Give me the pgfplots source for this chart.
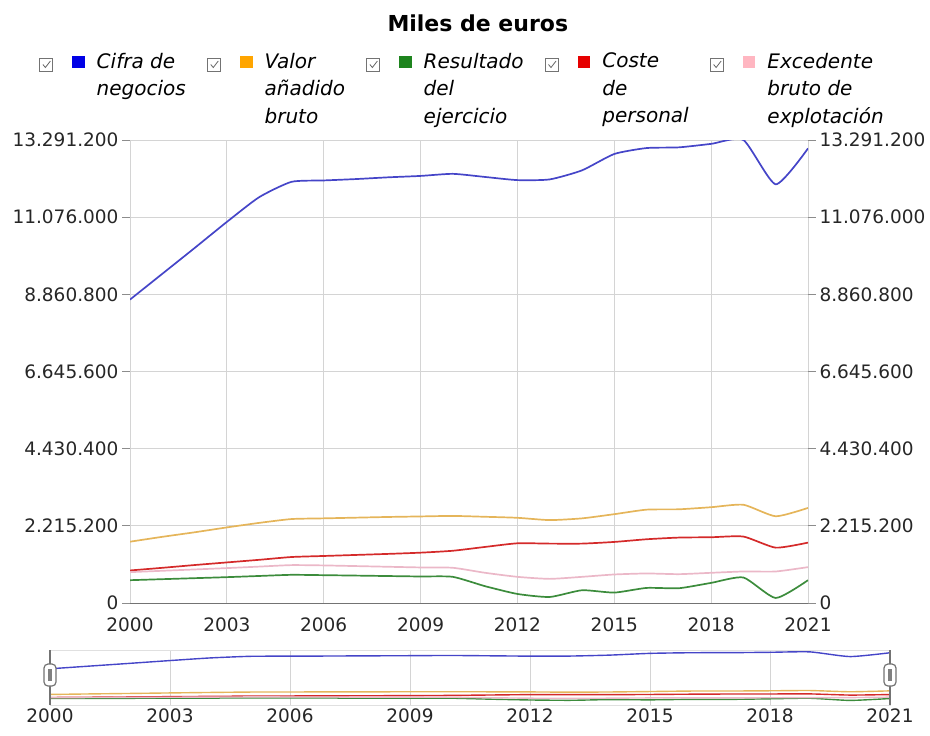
\documentclass[border=0pt]{standalone}
\usepackage{fontspec}
\setmainfont{DejaVu Sans}
\usepackage{pgfplots}
\usepackage{pgfplotstable}
\pgfplotsset{compat=1.18}

\definecolor{cblue}{HTML}{4545C8}
\definecolor{corange}{HTML}{E5B55A}
\definecolor{cgreen}{HTML}{3C8C3C}
\definecolor{cred}{HTML}{D42A2A}
\definecolor{cpink}{HTML}{EBB8C8}
\definecolor{lblue}{HTML}{0000E6}
\definecolor{lorange}{HTML}{FFA500}
\definecolor{lgreen}{HTML}{1E841E}
\definecolor{lred}{HTML}{E60000}
\definecolor{lpink}{HTML}{FFB6C1}
\definecolor{gridc}{HTML}{D4D4D4}

\newcommand{\tickfont}{\fontsize{18.5}{22}\selectfont}
\newcommand{\legfont}{\fontsize{20}{27.5}\selectfont}
\newcommand{\titlefont}{\fontsize{22}{26}\selectfont}

\newcommand{\legimg}[1]{%
  \draw[black!55, line width=0.8pt, fill=white] (-0.5pt,-18.5pt) rectangle (13pt,-5pt);
  \draw[black!60, line width=0.8pt] (3pt,-11.5pt) -- (5.5pt,-14.5pt) -- (10.5pt,-8pt);
  \fill[#1] (33pt,-14.5pt) rectangle (44pt,-3.5pt);
}

% year, value (euros x 1000)
\pgfplotstableread{
year cifra valor resultado coste excedente
2000 8710000 1760000 655000 934000 886000
2001 9450000 1900000 684000 1010000 925000
2002 10190000 2030000 713000 1090000 963000
2003 10940000 2170000 742000 1165000 1002000
2004 11650000 2300000 776000 1240000 1045000
2005 12090000 2410000 809000 1320000 1088000
2006 12130000 2430000 799000 1350000 1079000
2007 12170000 2450000 787000 1380000 1060000
2008 12220000 2470000 774000 1410000 1040000
2009 12260000 2485000 761000 1445000 1021000
2010 12320000 2500000 751000 1500000 1011000
2011 12230000 2475000 482000 1610000 867000
2012 12140000 2446000 260000 1714000 751000
2013 12160000 2380000 173000 1705000 693000
2014 12420000 2430000 366000 1705000 751000
2015 12890000 2550000 299000 1753000 819000
2016 13060000 2680000 433000 1830000 848000
2017 13080000 2690000 424000 1878000 828000
2018 13180000 2750000 578000 1888000 867000
2019 13291200 2820000 732000 1907000 905000
2020 12020000 2490000 144000 1589000 905000
2021 13050000 2730000 655000 1734000 1030000
}\datatable

\begin{document}
\begin{tikzpicture}
\useasboundingbox (0pt,0pt) rectangle (930pt,-736pt);

% ---------- main chart ----------
\begin{axis}[
  at={(130pt,-603pt)}, anchor=south west,
  width=678pt, height=463pt, scale only axis,
  xmin=2000, xmax=2021, ymin=0, ymax=13291200,
  scaled y ticks=false,
  axis x line*=bottom, axis y line*=left,
  x axis line style={draw=black!55, line width=1pt, -},
  y axis line style={draw=none},
  xtick={2000,2003,...,2021},
  ytick={0,2215200,4430400,6645600,8860800,11076000,13291200},
  yticklabels={0,2.215.200,4.430.400,6.645.600,8.860.800,11.076.000,13.291.200},
  xticklabel style={font=\tickfont, /pgf/number format/1000 sep={}, /pgf/number format/assume math mode=true, text=black!85, yshift=-3pt},
  yticklabel style={font=\tickfont, text=black!85},
  grid=major, grid style={gridc, line width=0.8pt},
  tick align=outside, major tick length=8pt,
  xtick style={draw=none},
  ytick style={draw=black!45, line width=0.8pt},
  title={Miles de euros},
  title style={font=\titlefont\bfseries, at={(axis description cs:0.513,1.222)}, anchor=base},
  legend columns=5,
  legend cell align=left,
  legend style={at={(axis description cs:-0.13422,1.1879)}, anchor=north west,
    draw=none, fill=none, inner sep=0pt, outer sep=0pt,
    font=\legfont\itshape,
    nodes={inner sep=0pt, align=left, anchor=north west},
    /tikz/every odd column/.append style={column sep=12pt},
    /tikz/every even column/.append style={column sep=21pt}},
  every axis plot/.append style={line width=1.7pt, smooth, tension=0.35},
]
\addplot[cblue, legend image code/.code={\legimg{lblue}}] table[x=year,y=cifra] {\datatable};
\addlegendentry{Cifra de\\negocios}
\addplot[corange, legend image code/.code={\legimg{lorange}}] table[x=year,y=valor] {\datatable};
\addlegendentry{Valor\\añadido\\bruto}
\addplot[cgreen, legend image code/.code={\legimg{lgreen}}] table[x=year,y=resultado] {\datatable};
\addlegendentry{Resultado\\del\\ejercicio}
\addplot[cred, legend image code/.code={\legimg{lred}}] table[x=year,y=coste] {\datatable};
\addlegendentry{Coste\\de\\personal}
\addplot[cpink, legend image code/.code={\legimg{lpink}}] table[x=year,y=excedente] {\datatable};
\addlegendentry{Excedente\\bruto de\\explotación}
\end{axis}

% ---------- right-hand labels ----------
\begin{axis}[
  at={(130pt,-603pt)}, anchor=south west,
  width=678pt, height=463pt, scale only axis,
  xmin=2000, xmax=2021, ymin=0, ymax=13291200,
  scaled y ticks=false,
  hide x axis, axis y line*=right,
  y axis line style={draw=none},
  ytick={0,2215200,4430400,6645600,8860800,11076000,13291200},
  yticklabels={0,2.215.200,4.430.400,6.645.600,8.860.800,11.076.000,13.291.200},
  yticklabel style={font=\tickfont, text=black!85},
  tick align=outside, major tick length=8pt,
  ytick style={draw=black!45, line width=0.8pt},
]
\addplot[draw=none] coordinates {(2000,0)};
\end{axis}

% ---------- navigator ----------
\begin{axis}[
  at={(50pt,-705pt)}, anchor=south west,
  width=840pt, height=55pt, scale only axis,
  xmin=2000, xmax=2021, ymin=-1100000, ymax=13800000,
  scaled y ticks=false,
  axis line style={draw=black!12},
  ytick=\empty,
  xtick={2000,2003,...,2021},
  xticklabel style={font=\tickfont, /pgf/number format/1000 sep={}, /pgf/number format/assume math mode=true, text=black!85},
  xmajorgrids, grid style={gridc, line width=0.8pt},
  xtick style={draw=none},
  every axis plot/.append style={line width=1.4pt, smooth, tension=0.35},
  clip=false,
]
\addplot[cblue] table[x=year,y=cifra] {\datatable};
\addplot[corange] table[x=year,y=valor] {\datatable};
\addplot[cgreen] table[x=year,y=resultado] {\datatable};
\addplot[cred] table[x=year,y=coste] {\datatable};
\addplot[cpink] table[x=year,y=excedente] {\datatable};
\draw[black!55, line width=1.2pt] (rel axis cs:0,0) -- (rel axis cs:0,1);
\draw[black!55, line width=1.2pt] (rel axis cs:1,0) -- (rel axis cs:1,1);
\node[draw=black!55, fill=white, rounded corners=4pt, line width=1.2pt, minimum width=12pt, minimum height=22pt, inner sep=0pt] at (rel axis cs:0,0.545) {};
\node[fill=black!50, minimum width=3.5pt, minimum height=12pt, inner sep=0pt] at (rel axis cs:0,0.545) {};
\node[draw=black!55, fill=white, rounded corners=4pt, line width=1.2pt, minimum width=12pt, minimum height=22pt, inner sep=0pt] at (rel axis cs:1,0.545) {};
\node[fill=black!50, minimum width=3.5pt, minimum height=12pt, inner sep=0pt] at (rel axis cs:1,0.545) {};
\end{axis}
\end{tikzpicture}
\end{document}
